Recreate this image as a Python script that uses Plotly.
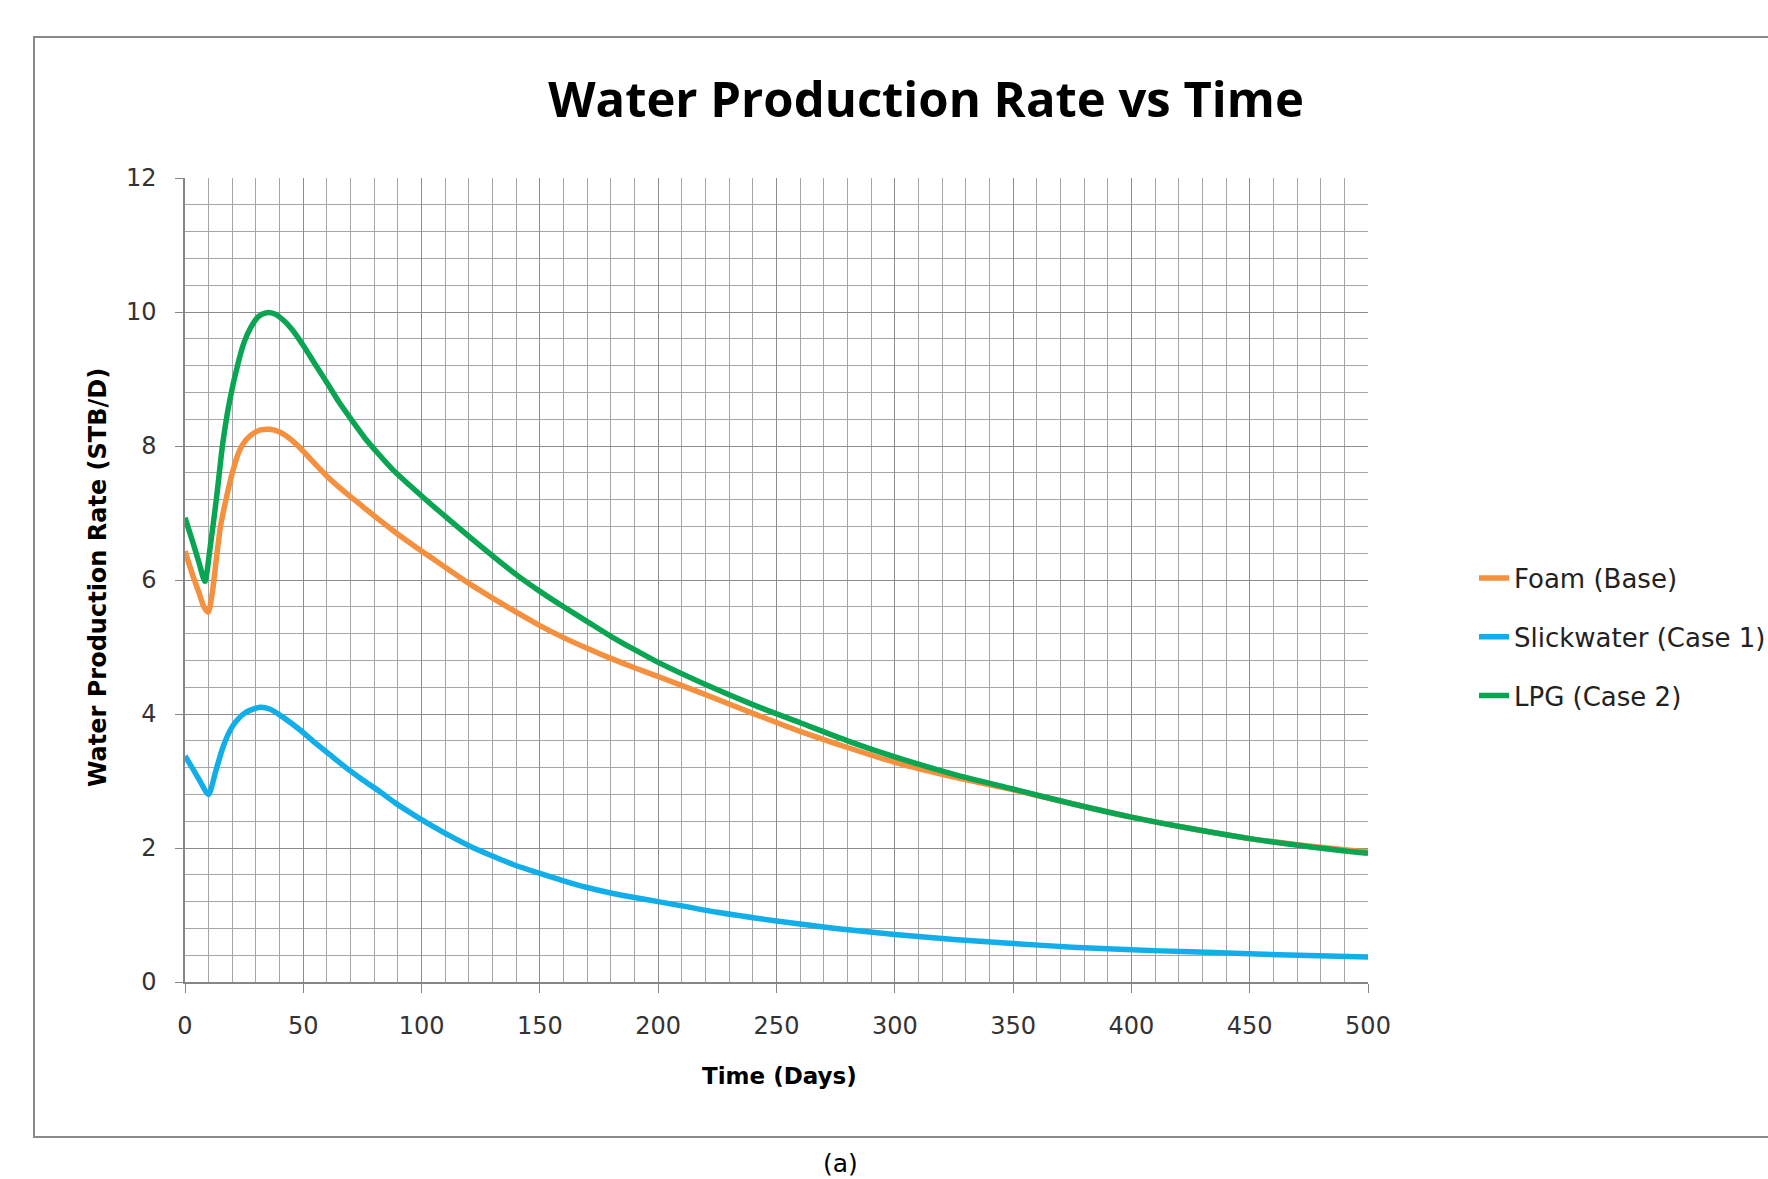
import plotly.graph_objects as go

# ---------------- data ----------------
foam_t = [0, 3, 6, 8, 9.8, 11.5, 13.3, 15, 17.5, 20, 23, 26, 29, 32, 35.7, 40, 44, 49, 54, 60,
          68, 75, 82, 89, 96, 103, 110, 120, 130, 140, 150, 160, 170, 180, 190, 200, 220, 240,
          260, 280, 300, 325, 350, 375, 400, 425, 450, 475, 500]
foam_q = [6.43, 6.1, 5.8, 5.6, 5.52, 5.8, 6.33, 6.8, 7.23, 7.6, 7.93, 8.1, 8.19, 8.24, 8.25, 8.21,
          8.12, 7.96, 7.77, 7.55, 7.3, 7.1, 6.9, 6.71, 6.53, 6.36, 6.19, 5.95, 5.73, 5.52, 5.32,
          5.14, 4.98, 4.83, 4.69, 4.56, 4.29, 4.01, 3.74, 3.5, 3.28, 3.06, 2.87, 2.66, 2.46, 2.29,
          2.14, 2.03, 1.94]

slick_t = [0, 3, 6, 9.9, 13, 16, 19, 21.8, 26, 31.7, 36, 41.5, 48, 54, 61, 68, 75, 82, 89, 96,
           103, 112, 122, 130, 139, 150, 160, 170, 181, 190, 200, 225, 250, 275, 300, 325, 350,
           375, 400, 425, 450, 475, 500]
slick_q = [3.375, 3.2, 3.02, 2.8, 3.15, 3.5, 3.75, 3.9, 4.03, 4.1, 4.07, 3.95, 3.78, 3.6, 3.4,
           3.2, 3.02, 2.85, 2.67, 2.51, 2.36, 2.18, 2.0, 1.88, 1.75, 1.62, 1.51, 1.41, 1.32, 1.26,
           1.2, 1.04, 0.91, 0.8, 0.71, 0.635, 0.575, 0.52, 0.48, 0.45, 0.42, 0.395, 0.375]

lpg_t = [0, 3, 6, 8.4, 10.5, 13.3, 16, 18.9, 22.4, 25, 28, 31, 34.5, 38, 41.5, 45, 50, 55,
         60.8, 65, 70.6, 76, 81.8, 88, 96, 103, 110, 120, 130, 140, 150, 160, 170, 180, 190,
         200, 220, 240, 260, 280, 300, 325, 350, 375, 400, 425, 450, 475, 500]
lpg_q = [6.93, 6.6, 6.25, 5.98, 6.45, 7.22, 8.05, 8.68, 9.23, 9.55, 9.78, 9.93, 9.99, 9.97, 9.88,
         9.75, 9.5, 9.22, 8.9, 8.66, 8.38, 8.12, 7.88, 7.64, 7.38, 7.16, 6.95, 6.65, 6.36, 6.08,
         5.83, 5.6, 5.38, 5.16, 4.96, 4.77, 4.44, 4.14, 3.87, 3.6, 3.36, 3.1, 2.88, 2.66, 2.46,
         2.29, 2.14, 2.02, 1.92]

series_names = ["Foam (Base)", "Slickwater (Case 1)", "LPG (Case 2)"]
series_colors = ["#F5903F", "#12AEEA", "#0AA552"]

x_ticks = [0, 50, 100, 150, 200, 250, 300, 350, 400, 450, 500]
y_ticks = [0, 2, 4, 6, 8, 10, 12]

chart_title = "Water Production Rate vs Time"
x_title = "Time (Days)"
y_title = "Water Production Rate (STB/D)"
caption = "(a)"

# ---------------- figure ----------------
W, H = 1768, 1179
L, R, T, B = 185, 1368, 178, 982  # plot area in pixels
pw, ph = R - L, B - T


def px_x(p):
    return (p - L) / pw


def px_y(p):
    return (B - p) / ph


FONT = "Open Sans"
TICKFONT = "DejaVu Sans"
fig = go.Figure()
for i, (tt, qq) in enumerate([(foam_t, foam_q), (slick_t, slick_q), (lpg_t, lpg_q)]):
    fig.add_trace(go.Scatter(
        x=tt, y=qq, mode="lines", name=series_names[i],
        line=dict(color=series_colors[i], width=5.5, shape="spline", smoothing=0.7),
        legendgroup=f"g{i}",
    ))

grid_major = "#8C8C8C"
grid_minor = "#A6A6A6"

fig.update_layout(
    width=W, height=H,
    margin=dict(l=L, r=W - R, t=T, b=H - B, pad=0, autoexpand=False),
    paper_bgcolor="white", plot_bgcolor="white",
    font=dict(family=FONT, color="#222222"),
    title=dict(text=f"<b>{chart_title}</b>", font=dict(family=FONT, size=49, color="black"),
               xref="paper", x=px_x(926), xanchor="center",
               yref="container", y=1 - 100 / H, yanchor="middle"),
    showlegend=True,
    legend=dict(x=px_x(1474), y=px_y(637), xanchor="left", yanchor="middle",
                font=dict(family=TICKFONT, size=26, color="#222222"),
                tracegroupgap=22, bgcolor="rgba(0,0,0,0)"),
    xaxis=dict(range=[0, 500], tickvals=x_ticks, ticktext=[str(v) for v in x_ticks],
               showgrid=True, gridcolor=grid_major, gridwidth=1,
               minor=dict(dtick=10, showgrid=True, gridcolor=grid_minor, gridwidth=1),
               showline=True, linecolor="#868686", linewidth=1.5,
               ticks="outside", ticklen=9, tickcolor="#868686",
               tickfont=dict(family=TICKFONT, size=24, color="#333333"),
               ticklabelstandoff=12, zeroline=False, fixedrange=True),
    yaxis=dict(range=[0, 12], tickvals=y_ticks, ticktext=[str(v) for v in y_ticks],
               showgrid=True, gridcolor=grid_major, gridwidth=1,
               minor=dict(dtick=0.4, showgrid=True, gridcolor=grid_minor, gridwidth=1),
               showline=True, linecolor="#868686", linewidth=1.5,
               ticks="outside", ticklen=8, tickcolor="#868686",
               tickfont=dict(family=TICKFONT, size=24, color="#333333"),
               ticklabelstandoff=14, zeroline=False, fixedrange=True),
)

# axis titles and caption
fig.add_annotation(text=f"<b>{x_title}</b>", xref="paper", yref="paper",
                   x=px_x(779), y=px_y(1076), xanchor="center", yanchor="middle",
                   showarrow=False, font=dict(family=TICKFONT, size=23, color="black"))
fig.add_annotation(text=f"<b>{y_title}</b>", xref="paper", yref="paper",
                   x=px_x(98), y=px_y(578), xanchor="center", yanchor="middle",
                   textangle=-90, showarrow=False,
                   font=dict(family=TICKFONT, size=24, color="black"))
fig.add_annotation(text=caption, xref="paper", yref="paper",
                   x=px_x(840), y=px_y(1163), xanchor="center", yanchor="middle",
                   showarrow=False, font=dict(family=TICKFONT, size=25, color="black"))

# outer chart frame
fig.add_shape(type="rect", xref="paper", yref="paper",
              x0=px_x(34), x1=px_x(1790), y0=px_y(1137), y1=px_y(37),
              line=dict(color="#8A8A8A", width=2), fillcolor="rgba(0,0,0,0)", layer="below")

fig.write_html("out.html", config={"displayModeBar": False},
               post_script="document.body.style.margin='0px';document.body.style.overflow='hidden';")
